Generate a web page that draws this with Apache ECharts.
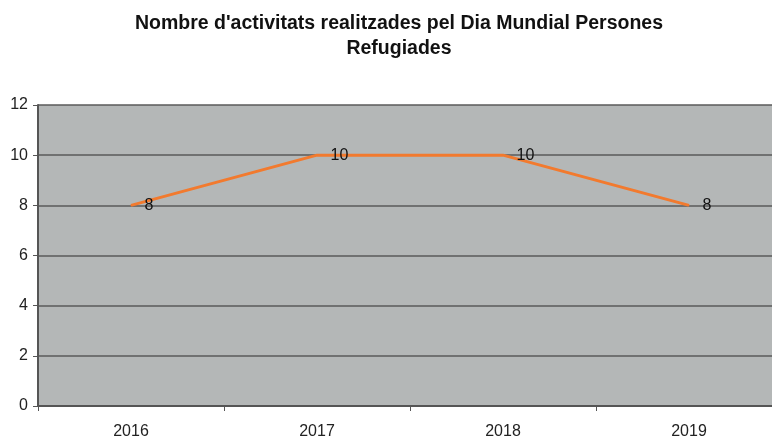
<!DOCTYPE html>
<html>
<head>
<meta charset="utf-8">
<script src="https://cdn.jsdelivr.net/npm/echarts@6/dist/echarts.min.js"></script>
<style>
  html, body { margin: 0; padding: 0; background: #fff; }
  #chart { width: 772px; height: 436px; }
</style>
</head>
<body>
<div id="chart"></div>
<script>
var years = ['2016', '2017', '2018', '2019'];
var activitats = [8, 10, 10, 8];
var yTicks = [0, 2, 4, 6, 8, 10, 12];

var chart = echarts.init(document.getElementById('chart'));
var option = {
    animation: false,
    title: {
        text: "Nombre d'activitats realitzades pel Dia Mundial Persones\nRefugiades",
        left: 394,
        textAlign: 'center',
        top: 6,
        textStyle: {
            fontFamily: 'Liberation Sans',
            fontSize: 19.5,
            fontWeight: 'bold',
            color: '#111',
            lineHeight: 25
        }
    },
    grid: {
        left: 38,
        top: 105,
        right: -10,
        bottom: 30,
        outerBoundsMode: 'none',
        containLabel: false,
        backgroundColor: '#b4b7b7',
        borderWidth: 0,
        show: true
    },
    xAxis: {
        type: 'category',
        data: years,
        boundaryGap: true,
        axisLine: { lineStyle: { color: '#555', width: 2 } },
        axisTick: { show: true, length: 5, lineStyle: { color: '#555' } },
        axisLabel: {
            fontFamily: 'Liberation Sans',
            fontSize: 16,
            color: '#222',
            margin: 18
        }
    },
    yAxis: {
        type: 'value',
        min: yTicks[0],
        max: yTicks[yTicks.length - 1],
        interval: 2,
        axisLine: { show: true, lineStyle: { color: '#555', width: 2 } },
        axisTick: { show: true, length: 5, lineStyle: { color: '#555' } },
        splitLine: { lineStyle: { color: '#5a5a5a', width: 1.5 } },
        axisLabel: {
            fontFamily: 'Liberation Sans',
            fontSize: 16,
            color: '#222',
            margin: 10
        }
    },
    series: [
        {
            type: 'line',
            data: activitats,
            symbol: 'circle',
            symbolSize: 1,
            showSymbol: true,
            itemStyle: { color: '#f27a2e' },
            lineStyle: { color: '#f27a2e', width: 3 },
            label: {
                show: true,
                position: 'right',
                distance: 13,
                fontFamily: 'Liberation Sans',
                fontSize: 16,
                color: '#111'
            }
        }
    ]
};
chart.setOption(option);
</script>
</body>
</html>
